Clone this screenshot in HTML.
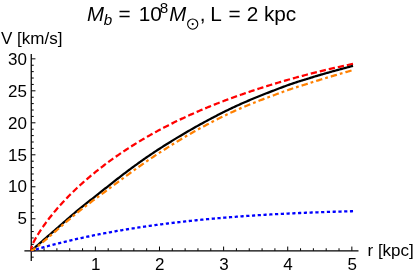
<!DOCTYPE html>
<html><head><meta charset="utf-8"><title>plot</title>
<style>
html,body{margin:0;padding:0;background:#fff;}
body{width:415px;height:275px;overflow:hidden;font-family:"Liberation Sans",sans-serif;}
svg{display:block;will-change:transform;}
svg text{font-family:"Liberation Sans",sans-serif;fill:#000;}
</style></head><body>
<svg width="415" height="275" viewBox="0 0 415 275">
<rect width="415" height="275" fill="#fff"/>
<g stroke="#000" stroke-width="1.25" fill="none">
<line x1="24.4" y1="250.75" x2="358.5" y2="250.75"/>
<line x1="31.25" y1="54" x2="31.25" y2="261"/>
</g>
<g stroke="#000" stroke-width="1.0" fill="none">
<line x1="31.25" y1="250.75" x2="31.25" y2="246.55"/>
<line x1="44.07" y1="250.75" x2="44.07" y2="248.25"/>
<line x1="56.90" y1="250.75" x2="56.90" y2="248.25"/>
<line x1="69.72" y1="250.75" x2="69.72" y2="248.25"/>
<line x1="82.55" y1="250.75" x2="82.55" y2="248.25"/>
<line x1="95.37" y1="250.75" x2="95.37" y2="246.55"/>
<line x1="108.19" y1="250.75" x2="108.19" y2="248.25"/>
<line x1="121.02" y1="250.75" x2="121.02" y2="248.25"/>
<line x1="133.84" y1="250.75" x2="133.84" y2="248.25"/>
<line x1="146.67" y1="250.75" x2="146.67" y2="248.25"/>
<line x1="159.49" y1="250.75" x2="159.49" y2="246.55"/>
<line x1="172.31" y1="250.75" x2="172.31" y2="248.25"/>
<line x1="185.14" y1="250.75" x2="185.14" y2="248.25"/>
<line x1="197.96" y1="250.75" x2="197.96" y2="248.25"/>
<line x1="210.79" y1="250.75" x2="210.79" y2="248.25"/>
<line x1="223.61" y1="250.75" x2="223.61" y2="246.55"/>
<line x1="236.43" y1="250.75" x2="236.43" y2="248.25"/>
<line x1="249.26" y1="250.75" x2="249.26" y2="248.25"/>
<line x1="262.08" y1="250.75" x2="262.08" y2="248.25"/>
<line x1="274.91" y1="250.75" x2="274.91" y2="248.25"/>
<line x1="287.73" y1="250.75" x2="287.73" y2="246.55"/>
<line x1="300.55" y1="250.75" x2="300.55" y2="248.25"/>
<line x1="313.38" y1="250.75" x2="313.38" y2="248.25"/>
<line x1="326.20" y1="250.75" x2="326.20" y2="248.25"/>
<line x1="339.03" y1="250.75" x2="339.03" y2="248.25"/>
<line x1="351.85" y1="250.75" x2="351.85" y2="246.55"/>
<line x1="31.25" y1="257.15" x2="33.75" y2="257.15"/>
<line x1="31.25" y1="250.75" x2="35.45" y2="250.75"/>
<line x1="31.25" y1="244.35" x2="33.75" y2="244.35"/>
<line x1="31.25" y1="237.96" x2="33.75" y2="237.96"/>
<line x1="31.25" y1="231.56" x2="33.75" y2="231.56"/>
<line x1="31.25" y1="225.16" x2="33.75" y2="225.16"/>
<line x1="31.25" y1="218.76" x2="35.45" y2="218.76"/>
<line x1="31.25" y1="212.37" x2="33.75" y2="212.37"/>
<line x1="31.25" y1="205.97" x2="33.75" y2="205.97"/>
<line x1="31.25" y1="199.57" x2="33.75" y2="199.57"/>
<line x1="31.25" y1="193.18" x2="33.75" y2="193.18"/>
<line x1="31.25" y1="186.78" x2="35.45" y2="186.78"/>
<line x1="31.25" y1="180.38" x2="33.75" y2="180.38"/>
<line x1="31.25" y1="173.99" x2="33.75" y2="173.99"/>
<line x1="31.25" y1="167.59" x2="33.75" y2="167.59"/>
<line x1="31.25" y1="161.19" x2="33.75" y2="161.19"/>
<line x1="31.25" y1="154.80" x2="35.45" y2="154.80"/>
<line x1="31.25" y1="148.40" x2="33.75" y2="148.40"/>
<line x1="31.25" y1="142.00" x2="33.75" y2="142.00"/>
<line x1="31.25" y1="135.60" x2="33.75" y2="135.60"/>
<line x1="31.25" y1="129.21" x2="33.75" y2="129.21"/>
<line x1="31.25" y1="122.81" x2="35.45" y2="122.81"/>
<line x1="31.25" y1="116.41" x2="33.75" y2="116.41"/>
<line x1="31.25" y1="110.02" x2="33.75" y2="110.02"/>
<line x1="31.25" y1="103.62" x2="33.75" y2="103.62"/>
<line x1="31.25" y1="97.22" x2="33.75" y2="97.22"/>
<line x1="31.25" y1="90.82" x2="35.45" y2="90.82"/>
<line x1="31.25" y1="84.43" x2="33.75" y2="84.43"/>
<line x1="31.25" y1="78.03" x2="33.75" y2="78.03"/>
<line x1="31.25" y1="71.63" x2="33.75" y2="71.63"/>
<line x1="31.25" y1="65.24" x2="33.75" y2="65.24"/>
<line x1="31.25" y1="58.84" x2="35.45" y2="58.84"/>
</g>
<g font-size="17">
<text x="95.67" y="270.4" text-anchor="middle">1</text>
<text x="159.79" y="270.4" text-anchor="middle">2</text>
<text x="223.91" y="270.4" text-anchor="middle">3</text>
<text x="288.03" y="270.4" text-anchor="middle">4</text>
<text x="352.15" y="270.4" text-anchor="middle">5</text>
<text x="27" y="224.46" text-anchor="end">5</text>
<text x="27" y="192.48" text-anchor="end">10</text>
<text x="27" y="160.50" text-anchor="end">15</text>
<text x="27" y="128.51" text-anchor="end">20</text>
<text x="27" y="96.52" text-anchor="end">25</text>
<text x="27" y="64.54" text-anchor="end">30</text>
</g>
<text x="1" y="43.7" font-size="17">V [km/s]</text>
<text x="367.5" y="256.3" font-size="17">r [kpc]</text>
<g font-size="20.4">
<text x="87.0" y="21.4" font-size="20.4" font-style="italic">M</text>
<text x="103.8" y="24.7" font-size="15.2" font-style="italic">b</text>
<text x="118.6" y="21.4" font-size="20.8">=</text>
<text x="138.7" y="21.4" font-size="20.8">10</text>
<text x="159.8" y="12.6" font-size="15.2">8</text>
<text x="169.3" y="21.4" font-size="20.4" font-style="italic">M</text>
<text x="199.8" y="21.4" font-size="20.8">,</text>
<text x="210.3" y="21.4" font-size="20.8">L</text>
<text x="228.5" y="21.4" font-size="20.8">=</text>
<text x="246.8" y="21.4" font-size="20.8">2</text>
<text x="263.9" y="21.4" font-size="20.8">kpc</text>
<circle cx="192.7" cy="24.1" r="5.1" fill="none" stroke="#000" stroke-width="1.1"/>
<circle cx="192.7" cy="24.1" r="1.1" fill="#000"/>
</g>
<g fill="none" stroke-linecap="butt">
<path d="M31.25,250.75 L31.47,250.69 L31.68,250.62 L31.90,250.56 L32.12,250.49 L32.34,250.43 L32.55,250.37 L32.77,250.30 L32.99,250.24 L33.21,250.18 L33.42,250.11 L33.64,250.05 L33.86,249.99 L34.08,249.92 L34.29,249.86 L34.51,249.80 L34.73,249.74 L34.95,249.67 L35.16,249.61 L35.38,249.55 L35.60,249.49 L35.81,249.42 L36.03,249.36 L36.25,249.30 L36.47,249.24 L36.68,249.18 L36.90,249.11 L37.12,249.05 L37.34,248.99 L37.55,248.93 L37.77,248.87 L37.99,248.80 L38.21,248.74 L38.42,248.68 L38.64,248.62 L38.86,248.56 L39.07,248.50 L39.29,248.44 L39.51,248.38 L39.73,248.31 L39.94,248.25 L40.16,248.19 L40.38,248.13 L40.60,248.07 L40.81,248.01 L41.03,247.95 L41.25,247.89 L41.47,247.83 L41.68,247.77 L41.90,247.71 L42.12,247.65 L42.34,247.59 L42.55,247.53 L42.77,247.47 L42.99,247.41 L43.20,247.35 L43.42,247.29 L43.64,247.23 L43.86,247.17 L44.07,247.11 L45.10,246.83 L46.13,246.55 L47.16,246.28 L48.19,246.00 L49.22,245.73 L50.25,245.46 L51.28,245.19 L52.31,244.92 L53.34,244.65 L54.37,244.39 L55.40,244.12 L56.43,243.86 L57.46,243.60 L58.48,243.34 L59.51,243.08 L60.54,242.83 L61.57,242.57 L62.60,242.32 L63.63,242.07 L64.66,241.82 L65.69,241.57 L66.72,241.33 L67.75,241.08 L68.78,240.84 L69.81,240.60 L70.84,240.36 L71.87,240.12 L72.90,239.88 L73.93,239.65 L74.95,239.41 L75.98,239.18 L77.01,238.95 L78.04,238.72 L79.07,238.49 L80.10,238.26 L81.13,238.04 L82.16,237.81 L83.19,237.59 L84.22,237.37 L85.25,237.15 L86.28,236.93 L87.31,236.71 L88.34,236.50 L89.37,236.28 L90.39,236.07 L91.42,235.86 L92.45,235.65 L93.48,235.44 L94.51,235.23 L95.54,235.03 L96.57,234.82 L97.60,234.62 L98.63,234.41 L99.66,234.21 L100.69,234.01 L101.72,233.82 L102.75,233.62 L103.78,233.42 L104.81,233.23 L105.84,233.03 L106.86,232.84 L107.89,232.65 L108.92,232.46 L109.95,232.27 L110.98,232.09 L112.01,231.90 L113.04,231.71 L114.07,231.53 L115.10,231.35 L116.13,231.17 L117.16,230.99 L118.19,230.81 L119.22,230.63 L120.25,230.45 L121.28,230.28 L122.30,230.10 L123.33,229.93 L124.36,229.76 L125.39,229.59 L126.42,229.42 L127.45,229.25 L128.48,229.08 L129.51,228.92 L130.54,228.75 L131.57,228.59 L132.60,228.43 L133.63,228.26 L134.66,228.10 L135.69,227.94 L136.72,227.78 L137.74,227.63 L138.77,227.47 L139.80,227.32 L140.83,227.16 L141.86,227.01 L142.89,226.86 L143.92,226.70 L144.95,226.55 L145.98,226.40 L147.01,226.26 L148.04,226.11 L149.07,225.96 L150.10,225.82 L151.13,225.67 L152.16,225.53 L153.19,225.39 L154.21,225.25 L155.24,225.11 L156.27,224.97 L157.30,224.83 L158.33,224.69 L159.36,224.56 L160.39,224.42 L161.42,224.29 L162.45,224.15 L163.48,224.02 L164.51,223.89 L165.54,223.76 L166.57,223.63 L167.60,223.50 L168.63,223.37 L169.65,223.24 L170.68,223.12 L171.71,222.99 L172.74,222.87 L173.77,222.74 L174.80,222.62 L175.83,222.50 L176.86,222.38 L177.89,222.26 L178.92,222.14 L179.95,222.02 L180.98,221.90 L182.01,221.79 L183.04,221.67 L184.07,221.56 L185.10,221.44 L186.12,221.33 L187.15,221.22 L188.18,221.11 L189.21,220.99 L190.24,220.88 L191.27,220.78 L192.30,220.67 L193.33,220.56 L194.36,220.45 L195.39,220.35 L196.42,220.24 L197.45,220.14 L198.48,220.03 L199.51,219.93 L200.54,219.83 L201.56,219.73 L202.59,219.63 L203.62,219.53 L204.65,219.43 L205.68,219.33 L206.71,219.23 L207.74,219.13 L208.77,219.04 L209.80,218.94 L210.83,218.85 L211.86,218.75 L212.89,218.66 L213.92,218.57 L214.95,218.48 L215.98,218.39 L217.00,218.29 L218.03,218.21 L219.06,218.12 L220.09,218.03 L221.12,217.94 L222.15,217.85 L223.18,217.77 L224.21,217.68 L225.24,217.60 L226.27,217.51 L227.30,217.43 L228.33,217.35 L229.36,217.26 L230.39,217.18 L231.42,217.10 L232.45,217.02 L233.47,216.94 L234.50,216.86 L235.53,216.78 L236.56,216.71 L237.59,216.63 L238.62,216.55 L239.65,216.48 L240.68,216.40 L241.71,216.33 L242.74,216.25 L243.77,216.18 L244.80,216.10 L245.83,216.03 L246.86,215.96 L247.89,215.89 L248.91,215.82 L249.94,215.75 L250.97,215.68 L252.00,215.61 L253.03,215.54 L254.06,215.48 L255.09,215.41 L256.12,215.34 L257.15,215.28 L258.18,215.21 L259.21,215.15 L260.24,215.08 L261.27,215.02 L262.30,214.95 L263.33,214.89 L264.36,214.83 L265.38,214.77 L266.41,214.71 L267.44,214.65 L268.47,214.59 L269.50,214.53 L270.53,214.47 L271.56,214.41 L272.59,214.35 L273.62,214.30 L274.65,214.24 L275.68,214.18 L276.71,214.13 L277.74,214.07 L278.77,214.02 L279.80,213.96 L280.82,213.91 L281.85,213.86 L282.88,213.80 L283.91,213.75 L284.94,213.70 L285.97,213.65 L287.00,213.60 L288.03,213.55 L289.06,213.50 L290.09,213.45 L291.12,213.40 L292.15,213.35 L293.18,213.30 L294.21,213.25 L295.24,213.21 L296.27,213.16 L297.29,213.11 L298.32,213.07 L299.35,213.02 L300.38,212.98 L301.41,212.93 L302.44,212.89 L303.47,212.84 L304.50,212.80 L305.53,212.76 L306.56,212.72 L307.59,212.67 L308.62,212.63 L309.65,212.59 L310.68,212.55 L311.71,212.51 L312.73,212.47 L313.76,212.43 L314.79,212.39 L315.82,212.35 L316.85,212.32 L317.88,212.28 L318.91,212.24 L319.94,212.20 L320.97,212.17 L322.00,212.13 L323.03,212.09 L324.06,212.06 L325.09,212.02 L326.12,211.99 L327.15,211.95 L328.17,211.92 L329.20,211.89 L330.23,211.85 L331.26,211.82 L332.29,211.79 L333.32,211.76 L334.35,211.73 L335.38,211.69 L336.41,211.66 L337.44,211.63 L338.47,211.60 L339.50,211.57 L340.53,211.54 L341.56,211.51 L342.59,211.48 L343.62,211.46 L344.64,211.43 L345.67,211.40 L346.70,211.37 L347.73,211.34 L348.76,211.32 L349.79,211.29 L350.82,211.26 L351.85,211.24 L353.05,211.21" stroke="#0000ff" stroke-width="2.3" stroke-dasharray="3.2 2.568" stroke-dashoffset="1.0"/>
<path d="M31.25,250.75 L31.47,248.31 L31.68,247.03 L31.90,246.17 L32.12,245.50 L32.34,244.92 L32.55,244.38 L32.77,243.88 L32.99,243.40 L33.21,242.94 L33.42,242.49 L33.64,242.05 L33.86,241.61 L34.08,241.19 L34.29,240.78 L34.51,240.37 L34.73,239.96 L34.95,239.56 L35.16,239.17 L35.38,238.78 L35.60,238.39 L35.81,238.01 L36.03,237.64 L36.25,237.26 L36.47,236.89 L36.68,236.52 L36.90,236.16 L37.12,235.80 L37.34,235.44 L37.55,235.08 L37.77,234.72 L37.99,234.37 L38.21,234.02 L38.42,233.67 L38.64,233.33 L38.86,232.99 L39.07,232.64 L39.29,232.30 L39.51,231.97 L39.73,231.63 L39.94,231.29 L40.16,230.96 L40.38,230.63 L40.60,230.30 L40.81,229.97 L41.03,229.65 L41.25,229.32 L41.47,229.00 L41.68,228.68 L41.90,228.36 L42.12,228.04 L42.34,227.72 L42.55,227.40 L42.77,227.09 L42.99,226.78 L43.20,226.46 L43.42,226.15 L43.64,225.84 L43.86,225.54 L44.07,225.23 L45.10,223.79 L46.13,222.38 L47.16,221.00 L48.19,219.63 L49.22,218.29 L50.25,216.97 L51.28,215.68 L52.31,214.40 L53.34,213.14 L54.37,211.89 L55.40,210.67 L56.43,209.46 L57.46,208.27 L58.48,207.09 L59.51,205.93 L60.54,204.78 L61.57,203.64 L62.60,202.52 L63.63,201.41 L64.66,200.32 L65.69,199.23 L66.72,198.16 L67.75,197.10 L68.78,196.05 L69.81,195.01 L70.84,193.99 L71.87,192.97 L72.90,191.96 L73.93,190.96 L74.95,189.98 L75.98,189.00 L77.01,188.03 L78.04,187.07 L79.07,186.11 L80.10,185.17 L81.13,184.23 L82.16,183.31 L83.19,182.39 L84.22,181.48 L85.25,180.57 L86.28,179.68 L87.31,178.79 L88.34,177.91 L89.37,177.03 L90.39,176.17 L91.42,175.31 L92.45,174.45 L93.48,173.61 L94.51,172.77 L95.54,171.93 L96.57,171.11 L97.60,170.28 L98.63,169.47 L99.66,168.66 L100.69,167.86 L101.72,167.06 L102.75,166.27 L103.78,165.49 L104.81,164.71 L105.84,163.93 L106.86,163.16 L107.89,162.40 L108.92,161.64 L109.95,160.89 L110.98,160.14 L112.01,159.40 L113.04,158.66 L114.07,157.93 L115.10,157.21 L116.13,156.48 L117.16,155.77 L118.19,155.05 L119.22,154.35 L120.25,153.64 L121.28,152.95 L122.30,152.25 L123.33,151.56 L124.36,150.88 L125.39,150.20 L126.42,149.53 L127.45,148.85 L128.48,148.19 L129.51,147.53 L130.54,146.87 L131.57,146.21 L132.60,145.56 L133.63,144.92 L134.66,144.28 L135.69,143.64 L136.72,143.01 L137.74,142.38 L138.77,141.75 L139.80,141.13 L140.83,140.51 L141.86,139.90 L142.89,139.29 L143.92,138.68 L144.95,138.08 L145.98,137.48 L147.01,136.89 L148.04,136.29 L149.07,135.71 L150.10,135.12 L151.13,134.54 L152.16,133.96 L153.19,133.39 L154.21,132.82 L155.24,132.25 L156.27,131.69 L157.30,131.13 L158.33,130.57 L159.36,130.02 L160.39,129.47 L161.42,128.92 L162.45,128.38 L163.48,127.84 L164.51,127.30 L165.54,126.77 L166.57,126.24 L167.60,125.71 L168.63,125.18 L169.65,124.66 L170.68,124.14 L171.71,123.63 L172.74,123.12 L173.77,122.61 L174.80,122.10 L175.83,121.60 L176.86,121.09 L177.89,120.60 L178.92,120.10 L179.95,119.61 L180.98,119.12 L182.01,118.63 L183.04,118.15 L184.07,117.67 L185.10,117.19 L186.12,116.71 L187.15,116.24 L188.18,115.77 L189.21,115.30 L190.24,114.84 L191.27,114.37 L192.30,113.91 L193.33,113.46 L194.36,113.00 L195.39,112.55 L196.42,112.10 L197.45,111.65 L198.48,111.21 L199.51,110.76 L200.54,110.32 L201.56,109.89 L202.59,109.45 L203.62,109.02 L204.65,108.59 L205.68,108.16 L206.71,107.73 L207.74,107.31 L208.77,106.88 L209.80,106.46 L210.83,106.05 L211.86,105.63 L212.89,105.22 L213.92,104.81 L214.95,104.40 L215.98,103.99 L217.00,103.58 L218.03,103.18 L219.06,102.78 L220.09,102.38 L221.12,101.98 L222.15,101.59 L223.18,101.20 L224.21,100.81 L225.24,100.42 L226.27,100.03 L227.30,99.64 L228.33,99.26 L229.36,98.88 L230.39,98.50 L231.42,98.12 L232.45,97.74 L233.47,97.37 L234.50,97.00 L235.53,96.63 L236.56,96.26 L237.59,95.89 L238.62,95.52 L239.65,95.16 L240.68,94.80 L241.71,94.44 L242.74,94.08 L243.77,93.72 L244.80,93.36 L245.83,93.01 L246.86,92.66 L247.89,92.31 L248.91,91.96 L249.94,91.61 L250.97,91.26 L252.00,90.92 L253.03,90.58 L254.06,90.23 L255.09,89.89 L256.12,89.56 L257.15,89.22 L258.18,88.88 L259.21,88.55 L260.24,88.22 L261.27,87.89 L262.30,87.56 L263.33,87.23 L264.36,86.90 L265.38,86.58 L266.41,86.25 L267.44,85.93 L268.47,85.61 L269.50,85.29 L270.53,84.97 L271.56,84.66 L272.59,84.34 L273.62,84.03 L274.65,83.72 L275.68,83.41 L276.71,83.10 L277.74,82.79 L278.77,82.48 L279.80,82.18 L280.82,81.87 L281.85,81.57 L282.88,81.27 L283.91,80.97 L284.94,80.67 L285.97,80.38 L287.00,80.08 L288.03,79.79 L289.06,79.49 L290.09,79.20 L291.12,78.91 L292.15,78.62 L293.18,78.34 L294.21,78.05 L295.24,77.77 L296.27,77.48 L297.29,77.20 L298.32,76.92 L299.35,76.64 L300.38,76.36 L301.41,76.09 L302.44,75.81 L303.47,75.54 L304.50,75.26 L305.53,74.99 L306.56,74.72 L307.59,74.46 L308.62,74.19 L309.65,73.92 L310.68,73.66 L311.71,73.39 L312.73,73.13 L313.76,72.87 L314.79,72.61 L315.82,72.36 L316.85,72.10 L317.88,71.84 L318.91,71.59 L319.94,71.34 L320.97,71.09 L322.00,70.84 L323.03,70.59 L324.06,70.34 L325.09,70.09 L326.12,69.85 L327.15,69.60 L328.17,69.36 L329.20,69.12 L330.23,68.88 L331.26,68.64 L332.29,68.40 L333.32,68.17 L334.35,67.93 L335.38,67.70 L336.41,67.47 L337.44,67.23 L338.47,67.00 L339.50,66.78 L340.53,66.55 L341.56,66.32 L342.59,66.10 L343.62,65.87 L344.64,65.65 L345.67,65.43 L346.70,65.21 L347.73,64.99 L348.76,64.77 L349.79,64.55 L350.82,64.34 L351.85,64.12 L353.02,63.88" stroke="#ff0000" stroke-width="2.25" stroke-dasharray="6.3 2.966" stroke-dashoffset="1.2"/>
<path d="M31.25,250.75 L32.49,249.67 L33.73,248.60 L34.96,247.52 L36.20,246.44 L37.44,245.36 L38.68,244.28 L39.91,243.20 L41.15,242.12 L42.39,241.04 L43.63,239.96 L44.87,238.88 L46.10,237.80 L47.34,236.72 L48.58,235.64 L49.82,234.56 L51.06,233.48 L52.29,232.40 L53.53,231.32 L54.77,230.24 L56.01,229.15 L57.24,228.07 L58.48,226.99 L59.72,225.91 L60.96,224.82 L62.20,223.74 L63.43,222.66 L64.67,221.58 L65.91,220.50 L67.15,219.41 L68.39,218.33 L69.62,217.25 L70.86,216.18 L72.10,215.11 L73.34,214.05 L74.57,213.01 L75.81,211.97 L77.05,210.95 L78.29,209.93 L79.53,208.92 L80.76,207.91 L82.00,206.91 L83.24,205.92 L84.48,204.93 L85.71,203.94 L86.95,202.96 L88.19,201.97 L89.43,200.98 L90.67,199.99 L91.90,199.01 L93.14,198.04 L94.38,197.07 L95.62,196.11 L96.86,195.14 L98.09,194.17 L99.33,193.19 L100.57,192.21 L101.81,191.22 L103.04,190.23 L104.28,189.24 L105.52,188.25 L106.76,187.26 L108.00,186.27 L109.23,185.29 L110.47,184.31 L111.71,183.34 L112.95,182.37 L114.19,181.40 L115.42,180.43 L116.66,179.46 L117.90,178.50 L119.14,177.54 L120.37,176.58 L121.61,175.63 L122.85,174.68 L124.09,173.73 L125.33,172.79 L126.56,171.86 L127.80,170.92 L129.04,170.00 L130.28,169.08 L131.51,168.16 L132.75,167.25 L133.99,166.34 L135.23,165.44 L136.47,164.54 L137.70,163.65 L138.94,162.76 L140.18,161.88 L141.42,161.00 L142.66,160.13 L143.89,159.26 L145.13,158.40 L146.37,157.54 L147.61,156.68 L148.84,155.83 L150.08,154.98 L151.32,154.14 L152.56,153.31 L153.80,152.48 L155.03,151.66 L156.27,150.85 L157.51,150.04 L158.75,149.24 L159.99,148.44 L161.22,147.65 L162.46,146.86 L163.70,146.07 L164.94,145.29 L166.17,144.51 L167.41,143.74 L168.65,142.97 L169.89,142.20 L171.13,141.43 L172.36,140.66 L173.60,139.90 L174.84,139.15 L176.08,138.39 L177.31,137.65 L178.55,136.90 L179.79,136.16 L181.03,135.42 L182.27,134.69 L183.50,133.96 L184.74,133.23 L185.98,132.50 L187.22,131.78 L188.46,131.07 L189.69,130.35 L190.93,129.64 L192.17,128.93 L193.41,128.23 L194.64,127.53 L195.88,126.83 L197.12,126.13 L198.36,125.44 L199.60,124.75 L200.83,124.07 L202.07,123.39 L203.31,122.71 L204.55,122.04 L205.79,121.37 L207.02,120.70 L208.26,120.04 L209.50,119.38 L210.74,118.72 L211.97,118.07 L213.21,117.42 L214.45,116.77 L215.69,116.13 L216.93,115.49 L218.16,114.85 L219.40,114.22 L220.64,113.59 L221.88,112.96 L223.11,112.34 L224.35,111.73 L225.59,111.11 L226.83,110.51 L228.07,109.90 L229.30,109.31 L230.54,108.71 L231.78,108.12 L233.02,107.54 L234.26,106.96 L235.49,106.39 L236.73,105.82 L237.97,105.26 L239.21,104.70 L240.44,104.14 L241.68,103.59 L242.92,103.04 L244.16,102.50 L245.40,101.96 L246.63,101.42 L247.87,100.88 L249.11,100.35 L250.35,99.83 L251.59,99.30 L252.82,98.79 L254.06,98.27 L255.30,97.76 L256.54,97.26 L257.77,96.76 L259.01,96.26 L260.25,95.76 L261.49,95.27 L262.73,94.78 L263.96,94.29 L265.20,93.81 L266.44,93.32 L267.68,92.84 L268.91,92.36 L270.15,91.88 L271.39,91.40 L272.63,90.92 L273.87,90.44 L275.10,89.96 L276.34,89.48 L277.58,89.00 L278.82,88.53 L280.06,88.06 L281.29,87.59 L282.53,87.13 L283.77,86.67 L285.01,86.21 L286.24,85.76 L287.48,85.31 L288.72,84.87 L289.96,84.43 L291.20,84.00 L292.43,83.58 L293.67,83.16 L294.91,82.75 L296.15,82.35 L297.39,81.94 L298.62,81.55 L299.86,81.15 L301.10,80.76 L302.34,80.37 L303.57,79.99 L304.81,79.60 L306.05,79.22 L307.29,78.84 L308.53,78.46 L309.76,78.07 L311.00,77.69 L312.24,77.31 L313.48,76.93 L314.71,76.55 L315.95,76.18 L317.19,75.80 L318.43,75.44 L319.67,75.07 L320.90,74.70 L322.14,74.34 L323.38,73.98 L324.62,73.62 L325.86,73.27 L327.09,72.91 L328.33,72.56 L329.57,72.21 L330.81,71.86 L332.04,71.52 L333.28,71.17 L334.52,70.83 L335.76,70.49 L337.00,70.15 L338.23,69.81 L339.47,69.48 L340.71,69.14 L341.95,68.81 L343.19,68.48 L344.42,68.15 L345.66,67.82 L346.90,67.49 L348.14,67.17 L349.37,66.84 L350.61,66.52 L351.85,66.20 L353.01,65.89" stroke="#000" stroke-width="2.25"/>
<path d="M31.25,250.75 L32.49,250.00 L33.73,249.22 L34.96,248.38 L36.20,247.46 L37.44,246.49 L38.68,245.50 L39.91,244.50 L41.15,243.49 L42.39,242.46 L43.63,241.43 L44.87,240.38 L46.10,239.33 L47.34,238.27 L48.58,237.21 L49.82,236.15 L51.06,235.08 L52.29,234.02 L53.53,232.95 L54.77,231.88 L56.01,230.81 L57.24,229.74 L58.48,228.66 L59.72,227.59 L60.96,226.52 L62.20,225.45 L63.43,224.38 L64.67,223.31 L65.91,222.24 L67.15,221.17 L68.39,220.11 L69.62,219.05 L70.86,217.99 L72.10,216.95 L73.34,215.91 L74.57,214.89 L75.81,213.88 L77.05,212.88 L78.29,211.89 L79.53,210.91 L80.76,209.94 L82.00,208.97 L83.24,208.01 L84.48,207.06 L85.71,206.11 L86.95,205.16 L88.19,204.21 L89.43,203.26 L90.67,202.31 L91.90,201.39 L93.14,200.47 L94.38,199.56 L95.62,198.65 L96.86,197.75 L98.09,196.85 L99.33,195.94 L100.57,195.03 L101.81,194.11 L103.04,193.19 L104.28,192.27 L105.52,191.34 L106.76,190.41 L108.00,189.49 L109.23,188.56 L110.47,187.63 L111.71,186.70 L112.95,185.78 L114.19,184.86 L115.42,183.93 L116.66,183.01 L117.90,182.10 L119.14,181.18 L120.37,180.27 L121.61,179.35 L122.85,178.44 L124.09,177.53 L125.33,176.62 L126.56,175.71 L127.80,174.80 L129.04,173.89 L130.28,172.98 L131.51,172.07 L132.75,171.17 L133.99,170.27 L135.23,169.38 L136.47,168.49 L137.70,167.61 L138.94,166.73 L140.18,165.85 L141.42,164.98 L142.66,164.11 L143.89,163.25 L145.13,162.39 L146.37,161.53 L147.61,160.68 L148.84,159.83 L150.08,158.98 L151.32,158.14 L152.56,157.31 L153.80,156.48 L155.03,155.65 L156.27,154.83 L157.51,154.02 L158.75,153.21 L159.99,152.41 L161.22,151.61 L162.46,150.81 L163.70,150.02 L164.94,149.23 L166.17,148.44 L167.41,147.66 L168.65,146.88 L169.89,146.10 L171.13,145.32 L172.36,144.55 L173.60,143.78 L174.84,143.01 L176.08,142.25 L177.31,141.49 L178.55,140.74 L179.79,139.99 L181.03,139.25 L182.27,138.51 L183.50,137.77 L184.74,137.04 L185.98,136.31 L187.22,135.59 L188.46,134.87 L189.69,134.15 L190.93,133.44 L192.17,132.73 L193.41,132.03 L194.64,131.33 L195.88,130.64 L197.12,129.95 L198.36,129.26 L199.60,128.58 L200.83,127.90 L202.07,127.23 L203.31,126.56 L204.55,125.89 L205.79,125.23 L207.02,124.58 L208.26,123.92 L209.50,123.27 L210.74,122.63 L211.97,121.99 L213.21,121.35 L214.45,120.71 L215.69,120.08 L216.93,119.45 L218.16,118.83 L219.40,118.21 L220.64,117.59 L221.88,116.98 L223.11,116.37 L224.35,115.77 L225.59,115.17 L226.83,114.57 L228.07,113.98 L229.30,113.40 L230.54,112.82 L231.78,112.24 L233.02,111.67 L234.26,111.11 L235.49,110.55 L236.73,110.00 L237.97,109.45 L239.21,108.91 L240.44,108.37 L241.68,107.84 L242.92,107.31 L244.16,106.79 L245.40,106.27 L246.63,105.75 L247.87,105.24 L249.11,104.73 L250.35,104.22 L251.59,103.72 L252.82,103.22 L254.06,102.73 L255.30,102.24 L256.54,101.76 L257.77,101.28 L259.01,100.80 L260.25,100.32 L261.49,99.85 L262.73,99.38 L263.96,98.91 L265.20,98.45 L266.44,97.98 L267.68,97.51 L268.91,97.05 L270.15,96.58 L271.39,96.11 L272.63,95.65 L273.87,95.19 L275.10,94.72 L276.34,94.26 L277.58,93.80 L278.82,93.35 L280.06,92.89 L281.29,92.44 L282.53,91.99 L283.77,91.55 L285.01,91.10 L286.24,90.67 L287.48,90.23 L288.72,89.80 L289.96,89.38 L291.20,88.96 L292.43,88.55 L293.67,88.14 L294.91,87.74 L296.15,87.34 L297.39,86.94 L298.62,86.55 L299.86,86.15 L301.10,85.76 L302.34,85.37 L303.57,84.98 L304.81,84.59 L306.05,84.20 L307.29,83.81 L308.53,83.42 L309.76,83.03 L311.00,82.63 L312.24,82.24 L313.48,81.85 L314.71,81.46 L315.95,81.07 L317.19,80.68 L318.43,80.30 L319.67,79.91 L320.90,79.53 L322.14,79.15 L323.38,78.77 L324.62,78.40 L325.86,78.03 L327.09,77.65 L328.33,77.28 L329.57,76.92 L330.81,76.55 L332.04,76.18 L333.28,75.82 L334.52,75.45 L335.76,75.09 L337.00,74.73 L338.23,74.36 L339.47,74.00 L340.71,73.64 L341.95,73.27 L343.19,72.91 L344.42,72.55 L345.66,72.19 L346.90,71.83 L348.14,71.47 L349.37,71.12 L350.61,70.76 L351.85,70.40 L353.00,70.07" stroke="#ff8000" stroke-width="2.25" stroke-dasharray="6.4 3.03 2.8 3.03" stroke-dashoffset="1.2"/>
</g>
</svg>
</body></html>
